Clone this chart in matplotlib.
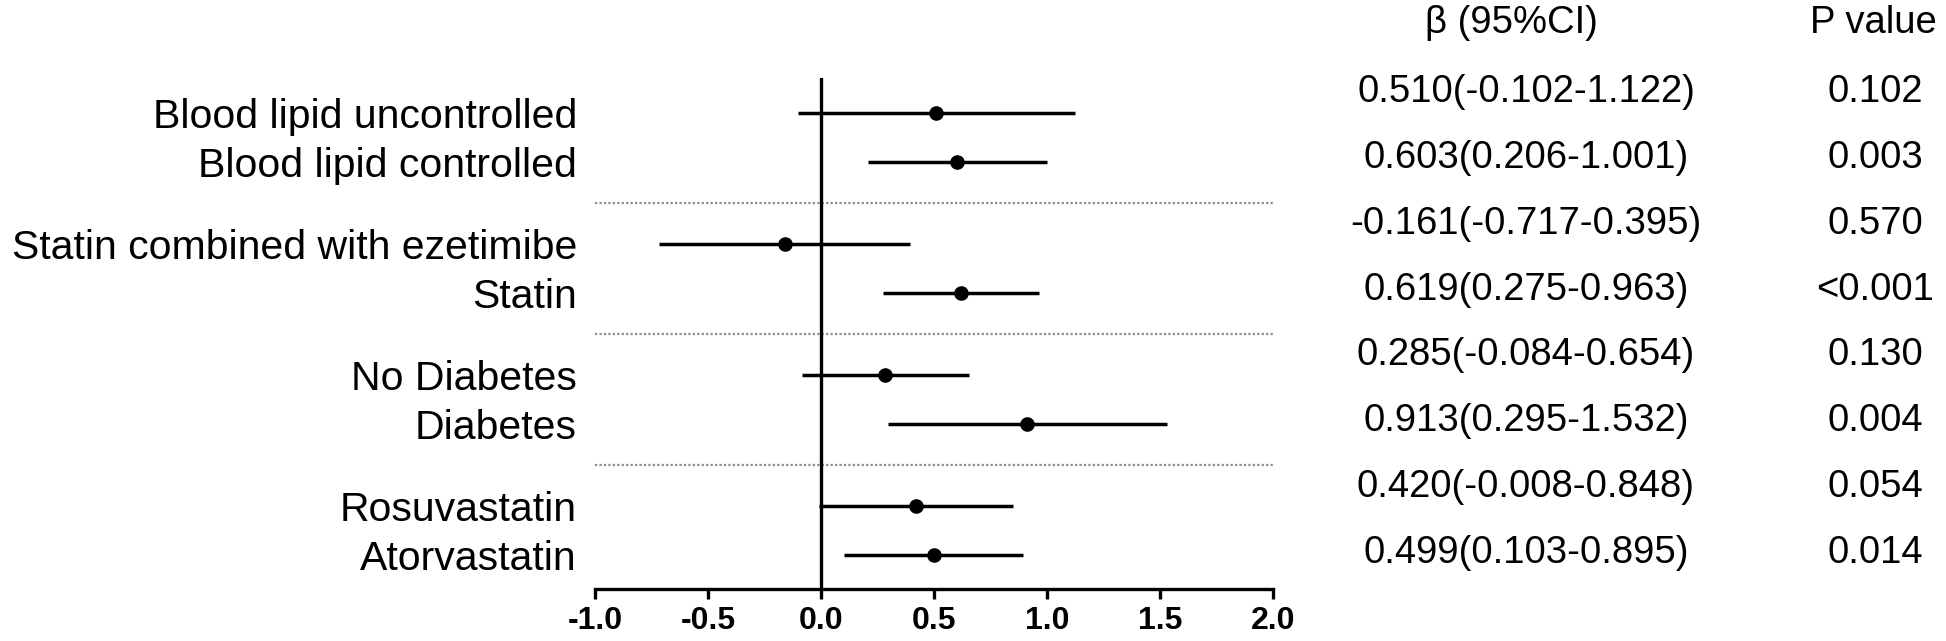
import numpy as np
import matplotlib
matplotlib.use("Agg")
import matplotlib.pyplot as plt

plt.rcParams['font.family'] = ['Liberation Sans', 'DejaVu Sans']

# subgroup labels (top to bottom) and estimates
labels = ["Blood lipid uncontrolled", "Blood lipid controlled",
          "Statin combined with ezetimibe", "Statin",
          "No Diabetes", "Diabetes",
          "Rosuvastatin", "Atorvastatin"]
beta = [0.510, 0.603, -0.161, 0.619, 0.285, 0.913, 0.420, 0.499]
ci_low = [-0.102, 0.206, -0.717, 0.275, -0.084, 0.295, -0.008, 0.103]
ci_high = [1.122, 1.001, 0.395, 0.963, 0.654, 1.532, 0.848, 0.895]
p_values = ["0.102", "0.003", "0.570", "<0.001", "0.130", "0.004", "0.054", "0.014"]
group_size = 2
xticks = [-1.0, -0.5, 0.0, 0.5, 1.0, 1.5, 2.0]

beta = np.array(beta)
lo = np.array(ci_low)
hi = np.array(ci_high)

# row positions: pairs of rows, with a wider gap between groups
gap = 1.67
idx = np.arange(len(labels))
ypos = (idx // group_size) * (group_size - 1 + gap) + (idx % group_size)
seps = [(ypos[i] + ypos[i + 1]) / 2 for i in range(group_size - 1, len(labels) - 1, group_size)]

W, H = 1946.0, 641.0
fig = plt.figure(figsize=(19.46, 6.41), dpi=100)
ax = fig.add_axes([595 / W, 1 - 589 / H, 678 / W, 511 / H])

ax.errorbar(beta, ypos, xerr=[beta - lo, hi - beta], fmt='o', color='black',
            ms=9.5, elinewidth=2.5, capsize=0, zorder=3)
ax.axvline(0, color='black', lw=2.4, zorder=2)
ax.hlines(seps, -1, 2, colors='#8c8c8c', linestyles=(0, (1, 1)), lw=1.6, zorder=1)

ax.set_xlim(-1, 2)
ax.set_ylim(ypos[-1] + 0.69, -0.71)
ax.set_xticks(xticks)
ax.set_xticklabels([f"{t:.1f}" for t in xticks], fontsize=23, fontweight='bold')
ax.tick_params(axis='x', length=7, width=2.4, pad=5)

ax.set_yticks(ypos)
ax.set_yticklabels(labels, fontsize=29.5)
ax.tick_params(axis='y', length=0, pad=13)

for s in ['top', 'right', 'left']:
    ax.spines[s].set_visible(False)
ax.spines['bottom'].set_linewidth(2.4)

# text columns on the right
fig.text(1511 / W, 1 - 23 / H, "β (95%CI)", ha='center', va='center', fontsize=27.5)
fig.text(1873 / W, 1 - 23 / H, "P value", ha='center', va='center', fontsize=27.5)
row_y = np.linspace(92, 553, len(labels))
for yy, b, l, h, p in zip(row_y, beta, lo, hi, p_values):
    fig.text(1526 / W, 1 - yy / H, f"{b:.3f}({l:.3f}-{h:.3f})",
             ha='center', va='center', fontsize=27.5)
    fig.text(1875 / W, 1 - yy / H, p, ha='center', va='center', fontsize=27.5)

fig.savefig("out.png", dpi=100)
